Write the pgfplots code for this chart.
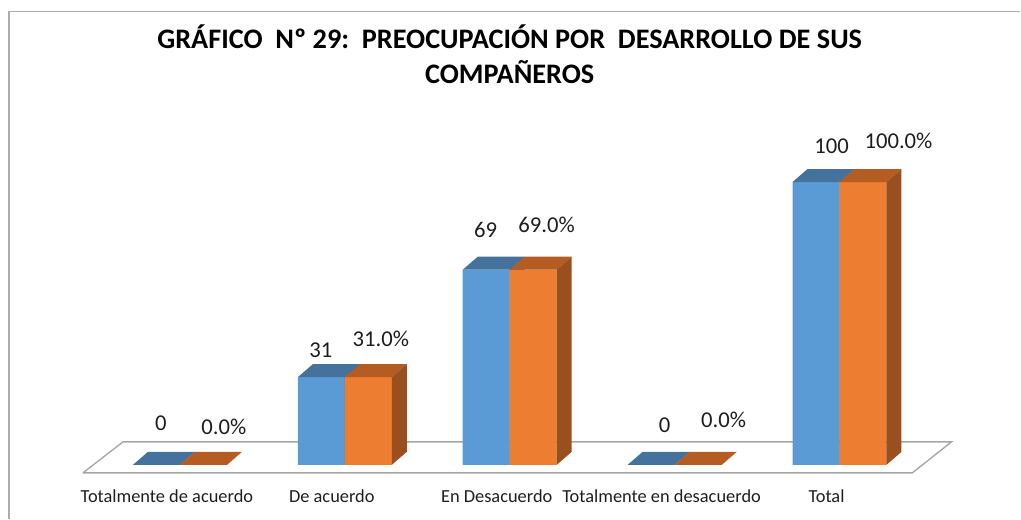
\documentclass[border=0pt]{standalone}
\usepackage{pgfplots}
\pgfplotsset{compat=1.18}
\usepackage{pgfplotstable}
\usepackage{fontspec}
\setmainfont{Carlito}
\definecolor{cblue}{HTML}{5B9BD5}
\definecolor{corange}{HTML}{ED7D31}
\definecolor{tblue}{HTML}{44729D}
\definecolor{torange}{HTML}{B45C22}
\definecolor{sblue}{HTML}{3A6590}
\definecolor{sorange}{HTML}{9A4F1E}
\definecolor{floorgray}{HTML}{A6A6A6}
\definecolor{txt}{HTML}{1E1E1E}

\pgfplotstableread{
x n pct
0 0 0.0
1 31 31.0
2 69 69.0
3 0 0.0
4 100 100.0
}\datatable

\pgfplotstableread{
x y lab
-0.1152 12.01 0
0.8545 37.81 31
1.8545 80.21 69
2.9394 11.31 0
3.9515 110.25 100
0.2667 10.60 0.0\%
1.2182 41.70 31.0\%
2.2242 81.98 69.0\%
3.2970 13.07 0.0\%
4.3576 112.01 100.0\%
}\labeltable

\def\bw{0.2848}
\def\ddx{0.0909}
\def\ddy{4.594}

\begin{document}
\begin{tikzpicture}
\begin{axis}[
  scale only axis,
  width=765.75pt, height=389.25pt,
  xmin=-1.09091, xmax=5.09697,
  ymin=-19.081, ymax=164.311,
  clip=false,
  axis line style={draw=none},
  major tick length=0pt,
  ytick=\empty,
  xtick={0,1,2,3,4},
  xticklabels={Totalmente de acuerdo, De acuerdo, En Desacuerdo, Totalmente en desacuerdo, Total},
  xticklabel style={anchor=base, yshift=12pt, xshift=-9.75pt, font=\fontsize{13.8}{16}\selectfont, text=txt},
]
% chart border
\addplot[draw=gray!65, line width=0.9pt] coordinates {(-1.0364,-19.081) (-1.0364,160.42) (5.097,160.42)};
% floor
\addplot[draw=floorgray, line width=1pt, fill=white] coordinates {(-0.588,-2.83) (4.442,-2.83) (4.679,8.13) (-0.345,8.13) (-0.588,-2.83)};
% blue series
\addplot[ybar, bar width=\bw, bar shift=-0.1424, fill=cblue, draw=none] table[x=x,y=n]{\datatable};
\pgfplotsforeachungrouped \i in {0,...,4}{%
  \pgfplotstablegetelem{\i}{n}\of\datatable
  \let\v=\pgfplotsretval
  \pgfmathsetmacro\xl{\i-\bw}%
  \pgfmathsetmacro\xr{\i}%
  \pgfmathsetmacro\xlb{\xl+\ddx}%
  \pgfmathsetmacro\xrb{\xr+\ddx}%
  \pgfmathsetmacro\vt{\v+\ddy}%
  \edef\tmp{\noexpand\addplot[fill=tblue, draw=none] coordinates {(\xl,\v) (\xr,\v) (\xrb,\vt) (\xlb,\vt) (\xl,\v)};
  \noexpand\addplot[fill=sblue, draw=none] coordinates {(\xr,0) (\xrb,\ddy) (\xrb,\vt) (\xr,\v) (\xr,0)};}%
  \tmp
}
% orange series
\addplot[ybar, bar width=\bw, bar shift=0.1424, fill=corange, draw=none] table[x=x,y=pct]{\datatable};
\pgfplotsforeachungrouped \i in {0,...,4}{%
  \pgfplotstablegetelem{\i}{pct}\of\datatable
  \let\v=\pgfplotsretval
  \pgfmathsetmacro\xl{\i}%
  \pgfmathsetmacro\xr{\i+\bw}%
  \pgfmathsetmacro\xlb{\xl+\ddx}%
  \pgfmathsetmacro\xrb{\xr+\ddx}%
  \pgfmathsetmacro\vt{\v+\ddy}%
  \edef\tmp{\noexpand\addplot[fill=torange, draw=none] coordinates {(\xl,\v) (\xr,\v) (\xrb,\vt) (\xlb,\vt) (\xl,\v)};
  \noexpand\addplot[fill=sorange, draw=none] coordinates {(\xr,0) (\xrb,\ddy) (\xrb,\vt) (\xr,\v) (\xr,0)};}%
  \tmp
}
% data labels
\addplot[draw=none, mark=none, nodes near coords, point meta=explicit symbolic,
  every node near coord/.append style={anchor=base, inner sep=0pt, font=\fontsize{17}{20}\selectfont, text=txt}]
  table[x=x, y=y, meta=lab]{\labeltable};
% title
\node[anchor=base, inner sep=0pt, font=\bfseries\fontsize{21.2}{25}\selectfont, text=black] at (axis description cs:0.4995,0.9075) {GRÁFICO\ \ Nº 29:\ \ PREOCUPACIÓN POR\ \ DESARROLLO DE SUS};
\node[anchor=base, inner sep=0pt, font=\bfseries\fontsize{21.2}{25}\selectfont, text=black] at (axis description cs:0.4995,0.8401) {COMPAÑEROS};
\end{axis}
\end{tikzpicture}
\end{document}
